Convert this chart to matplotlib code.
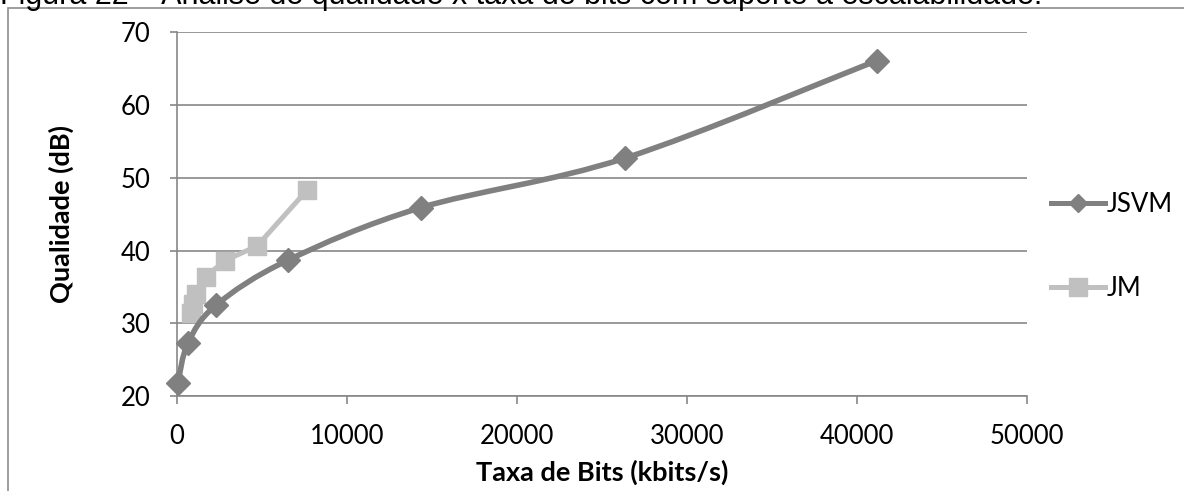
import numpy as np
import matplotlib
matplotlib.use("Agg")
import matplotlib.pyplot as plt
from matplotlib.path import Path
from matplotlib.patches import PathPatch, Rectangle
from matplotlib.lines import Line2D

# Data
jsvm_rate = [50, 650, 2300, 6550, 14350, 26350, 41150]
jsvm_quality = [21.8, 27.3, 32.5, 38.7, 45.9, 52.7, 66.1]
jm_rate = [850, 950, 1100, 1700, 2800, 4700, 7650]
jm_quality = [31.4, 32.6, 34.0, 36.4, 38.6, 40.6, 48.3]
x_ticks = [0, 10000, 20000, 30000, 40000, 50000]
y_ticks = [20, 30, 40, 50, 60, 70]

GRAY = "#808080"
LIGHT = "#c0c0c0"
GRID = "#878787"
FONT = ["Lato", "DejaVu Sans"]

plt.rcParams["font.family"] = FONT


# Excel style smoothed line (Catmull-Rom as cubic Bezier)
def smooth_path(xs, ys):
    pts = np.column_stack([xs, ys]).astype(float)
    n = len(pts)
    verts = [pts[0]]
    codes = [Path.MOVETO]
    for i in range(n - 1):
        p0 = pts[i - 1] if i > 0 else pts[i]
        p1 = pts[i]
        p2 = pts[i + 1]
        p3 = pts[i + 2] if i + 2 < n else pts[i + 1]
        c1 = p1 + (p2 - p0) / 6.0
        c2 = p2 - (p3 - p1) / 6.0
        verts += [c1, c2, p2]
        codes += [Path.CURVE4] * 3
    return Path(verts, codes)


fig = plt.figure(figsize=(11.84, 4.91), dpi=100)
ax = fig.add_axes([177 / 1184, 1 - 396 / 491, 850 / 1184, (396 - 32.3) / 491])

# outer frame of the figure box
fig.patches.append(Rectangle((8 / 1184, -0.1), 1.2, 1.1 - 8 / 491,
                             transform=fig.transFigure, fill=False,
                             edgecolor="#8c8c8c", linewidth=1.2, zorder=0))

# caption cut at the top
fig.text(0.0, 1 - 4 / 491,
         "Figura 22 – Análise de qualidade x taxa de bits com suporte à escalabilidade.",
         family=["Liberation Sans", "DejaVu Sans"], fontsize=22, va="baseline", ha="left")

ax.add_patch(PathPatch(smooth_path(jsvm_rate, jsvm_quality), facecolor="none",
                       edgecolor=GRAY, linewidth=4, capstyle="round", zorder=3))
ax.plot(jsvm_rate, jsvm_quality, linestyle="none", marker="D", markersize=12,
        color=GRAY, zorder=4, clip_on=False)
ax.plot(jm_rate, jm_quality, color=LIGHT, linewidth=3.6, marker="s",
        markersize=13, zorder=2, solid_joinstyle="round")

ax.set_xlim(0, 50000)
ax.set_ylim(20, 70)
ax.set_xticks(x_ticks)
ax.set_yticks(y_ticks)
ax.yaxis.grid(True, color=GRID, linewidth=1.2)
ax.set_axisbelow(True)
for s in ["top", "right"]:
    ax.spines[s].set_visible(False)
for s in ["left", "bottom"]:
    ax.spines[s].set_color(GRID)
    ax.spines[s].set_linewidth(1.2)
ax.tick_params(axis="y", direction="out", length=5, width=1.2, color=GRID,
               labelsize=18.5, pad=14)
ax.tick_params(axis="x", direction="out", length=6, width=1.2, color=GRID,
               labelsize=18.5, pad=14)
ax.set_xlabel("Taxa de Bits (kbits/s)", fontsize=19.5, fontweight="bold", labelpad=8)
ax.set_ylabel("Qualidade (dB)", fontsize=19.5, fontweight="bold", labelpad=34)

handles = [
    Line2D([], [], color=GRAY, linewidth=3.6, marker="D", markersize=9),
    Line2D([], [], color=LIGHT, linewidth=3.6, marker="s", markersize=13),
]
fig.legend(handles, ["JSVM", "JM"], loc="center left",
           bbox_to_anchor=(1051 / 1184, 1 - 246.5 / 491),
           bbox_transform=fig.transFigure, frameon=False, fontsize=18.5,
           borderpad=0, borderaxespad=0, handlelength=2.1, handletextpad=0.05,
           labelspacing=2.3)

fig.savefig("out.png", dpi=100)
